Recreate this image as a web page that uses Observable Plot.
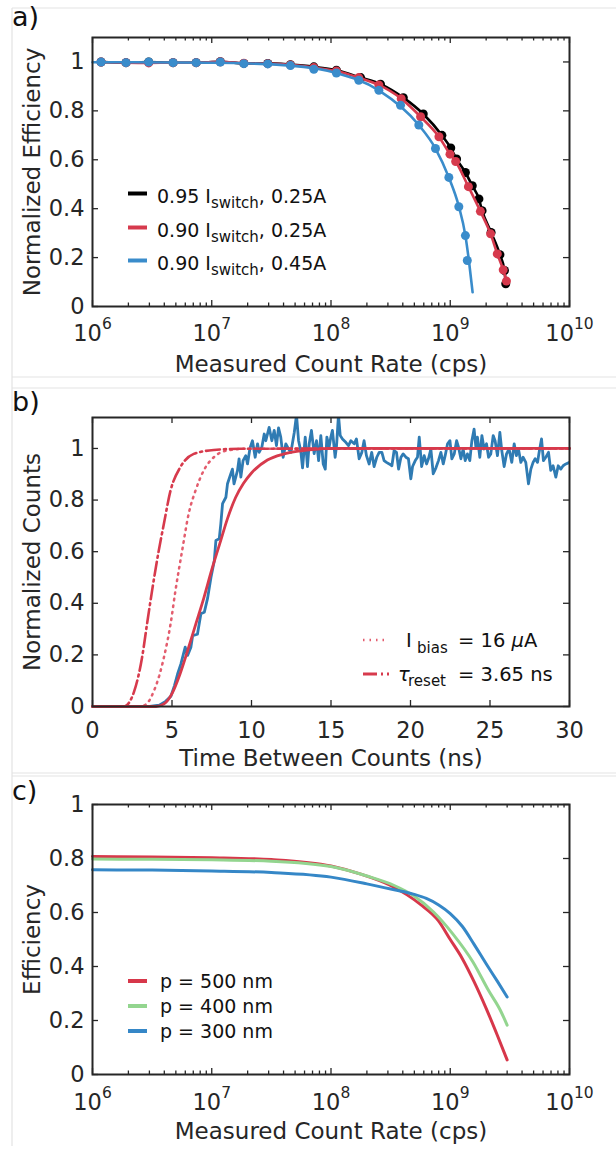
<!DOCTYPE html>
<html><head><meta charset="utf-8">
<script src="https://cdn.jsdelivr.net/npm/d3@7"></script>
<script src="https://cdn.jsdelivr.net/npm/@observablehq/plot@0.6"></script>
<style>
html,body{margin:0;padding:0;background:#fff;}
#root{position:relative;width:616px;height:1149px;overflow:hidden;background:#fff;font-family:"DejaVu Sans";}
.panel{position:absolute;left:0;}
.panel svg{display:block;}
#overlay{position:absolute;left:0;top:0;pointer-events:none;}
</style></head><body><div id="root"></div>
<script>
// ---------------- DATA ----------------
// Panel a: measured count rate (cps) vs normalized efficiency
const rateBlackA = [1.18e6,1.91e6,2.96e6,4.74e6,7.40e6,1.18e7,1.86e7,2.95e7,4.57e7,7.18e7,1.11e8,1.77e8,2.60e8,4.04e8,5.94e8,8.51e8,1.01e9,1.13e9,1.34e9,1.53e9,1.74e9,1.85e9,2.20e9,2.61e9,2.85e9,2.92e9];
const effBlackA  = [1.000,0.997,1.000,0.997,0.997,1.001,0.994,0.994,0.989,0.980,0.966,0.936,0.909,0.854,0.787,0.700,0.648,0.603,0.548,0.494,0.440,0.392,0.303,0.212,0.147,0.093];
const rateRedA = [1.18e6,1.91e6,2.96e6,4.74e6,7.40e6,1.18e7,1.86e7,2.95e7,4.57e7,7.18e7,1.11e8,1.71e8,2.52e8,3.88e8,5.64e8,8.04e8,9.95e8,1.11e9,1.42e9,1.79e9,2.18e9,2.48e9,2.78e9,2.96e9];
const effRedA  = [1.000,0.997,0.996,0.997,0.997,1.001,0.995,0.993,0.988,0.977,0.963,0.936,0.906,0.850,0.776,0.694,0.623,0.593,0.490,0.389,0.297,0.215,0.150,0.104];
const rateBlueA = [1.18e6,1.91e6,2.96e6,4.74e6,7.40e6,1.18e7,1.86e7,2.95e7,4.57e7,7.18e7,1.11e8,1.71e8,2.52e8,3.83e8,5.45e8,7.52e8,9.73e8,1.18e9,1.34e9,1.39e9];
const effBlueA  = [1.000,0.997,1.000,0.997,0.997,1.000,0.993,0.992,0.985,0.970,0.955,0.925,0.884,0.823,0.742,0.646,0.528,0.408,0.290,0.188];
const rateBlueFitA = [1.0e6,1.18e6,1.0e7,4.57e7,1.11e8,2.52e8,5.45e8,7.52e8,9.73e8,1.18e9,1.34e9,1.44e9,1.54e9];
const effBlueFitA  = [0.999,0.999,0.997,0.985,0.955,0.884,0.742,0.646,0.528,0.410,0.290,0.180,0.058];
const seriesA = ["0.95", "0.90", "0.90"];
const currentA = ["0.25A", "0.25A", "0.45A"];

// Panel b: time between counts (ns) vs normalized counts
const tMeasB = [0,1,2,3,3.6,4.2,4.6,4.93,5.15,5.35,5.56,5.83,5.98,6.19,6.3,6.6,6.82,7.03,7.24,7.45,7.66,7.76,7.97,8.07,8.18,8.39,8.49,8.7,8.8,8.9,9.12,9.22,9.33,9.47,9.64,9.75,9.9,10.06,10.23,10.38,10.48,10.65,10.8,10.9,11.11,11.28,11.43,11.57,11.7,11.84,11.99,12.16,12.33,12.48,12.69,12.83,12.96,13.1,13.21,13.38,13.52,13.63,13.77,13.94,14.09,14.22,14.36,14.51,14.64,14.74,14.88,14.99,15.09,15.26,15.35,15.47,15.58,15.72,15.93,16.1,16.25,16.46,16.6,16.77,16.94,17.08,17.23,17.4,17.56,17.71,17.88,18.03,18.2,18.34,18.49,18.66,18.83,18.97,19.12,19.25,19.4,19.54,19.71,19.87,20.02,20.13,20.3,20.44,20.55,20.7,20.86,21.01,21.13,21.28,21.43,21.6,21.76,21.91,22.06,22.18,22.33,22.48,22.6,22.75,22.9,23.02,23.17,23.31,23.44,23.58,23.73,23.86,24.0,24.11,24.21,24.36,24.49,24.63,24.78,24.91,25.05,25.2,25.32,25.47,25.62,25.74,25.89,26.04,26.2,26.37,26.52,26.66,26.79,26.94,27.08,27.25,27.42,27.57,27.71,27.84,27.99,28.09,28.24,28.36,28.51,28.68,28.82,28.97,29.14,29.29,29.45,29.6,29.77,30.0];
const nMeasB = [0,0,0,0,0,0.005,0.02,0.04,0.08,0.126,0.165,0.23,0.198,0.23,0.275,0.28,0.36,0.365,0.42,0.50,0.565,0.643,0.65,0.708,0.786,0.811,0.863,0.902,0.92,0.863,0.915,0.96,0.889,0.953,0.972,0.94,1.0,1.03,0.966,1.018,0.985,1.005,1.056,1.03,1.082,1.03,1.07,1.011,1.08,1.044,0.966,1.018,0.998,0.985,1.062,1.13,1.03,0.99,0.925,1.044,0.93,1.018,1.07,0.98,1.03,0.953,1.05,0.94,0.92,1.044,1.005,1.044,1.07,0.966,1.011,1.13,1.05,1.037,1.024,1.011,1.03,1.018,1.037,0.96,0.985,1.03,0.972,0.94,0.985,0.93,0.966,0.985,0.985,0.953,0.946,0.94,0.933,0.992,0.985,0.92,0.966,0.979,0.966,0.96,0.882,0.93,0.953,0.966,1.044,0.93,0.972,0.94,0.96,0.998,0.902,0.925,0.953,0.985,0.94,0.972,1.018,1.03,0.96,0.979,1.03,1.005,0.96,0.998,0.953,0.979,0.953,1.03,1.075,1.005,1.044,0.966,1.05,0.998,1.018,0.966,0.979,1.05,1.03,0.972,1.062,0.992,0.93,0.979,0.998,0.946,1.018,0.972,0.998,0.946,0.966,0.946,0.863,0.92,0.946,0.96,0.946,0.985,1.037,0.953,0.966,0.985,0.915,0.933,0.889,0.933,0.92,0.933,0.94,0.946];
const tModelB = [0,4.0,4.5,5.0,5.5,6.0,6.5,7.0,7.5,8.0,8.5,9.0,9.5,10,11,12,13,14,15,30];
const nModelB = [0,0,0.01,0.05,0.125,0.22,0.32,0.42,0.53,0.63,0.73,0.81,0.865,0.905,0.955,0.978,0.99,0.997,1.0,1.0];
const tBiasB = [0,3.0,3.4,3.86,4.2,4.49,4.91,5.22,5.64,6.06,6.48,7.0,7.63,8.47,9.72,30];
const nBiasB = [0,0,0.01,0.06,0.12,0.19,0.32,0.45,0.605,0.75,0.837,0.915,0.966,0.992,0.999,1.0];
const tResetB = [0,2.0,2.3,2.6,3.12,3.43,3.75,4.17,4.49,4.91,5.53,6.37,7.63,9.3,30];
const nResetB = [0,0,0.015,0.055,0.191,0.32,0.45,0.605,0.708,0.837,0.928,0.979,0.994,0.999,1.0];

// Panel c: measured count rate (cps) vs efficiency for three pitches
const pitchC = ["p = 500 nm", "p = 400 nm", "p = 300 nm"];
const rate500C = [1e6,3.16e6,1e7,3.16e7,1e8,1.78e8,3.16e8,5.62e8,7.94e8,1e9,1.26e9,1.58e9,2e9,2.51e9,3e9];
const eff500C  = [0.807,0.806,0.803,0.796,0.772,0.742,0.700,0.630,0.570,0.500,0.430,0.345,0.245,0.140,0.054];
const rate400C = [1e6,3.16e6,1e7,3.16e7,1e8,2e8,3.39e8,4.9e8,7.24e8,1.05e9,1.55e9,2.09e9,2.63e9,3e9];
const eff400C  = [0.798,0.797,0.795,0.790,0.770,0.735,0.700,0.663,0.602,0.521,0.417,0.312,0.238,0.183];
const rate300C = [1e6,3.16e6,1e7,3.16e7,1e8,2e8,3.39e8,4.9e8,6.3e8,8e8,1e9,1.26e9,1.58e9,2e9,2.51e9,3e9];
const eff300C  = [0.758,0.757,0.754,0.748,0.731,0.706,0.684,0.668,0.652,0.628,0.596,0.549,0.483,0.410,0.342,0.287];

// Ticks
const logMajor = [1e6,1e7,1e8,1e9,1e10];
const logMinor = [2e6,3e6,4e6,5e6,6e6,7e6,8e6,9e6,2e7,3e7,4e7,5e7,6e7,7e7,8e7,9e7,2e8,3e8,4e8,5e8,6e8,7e8,8e8,9e8,2e9,3e9,4e9,5e9,6e9,7e9,8e9,9e9];
const effTicks = [0,0.2,0.4,0.6,0.8,1];
const timeTicks = [0,5,10,15,20,25,30];

// ---------------- STYLE ----------------
const ink = "#262626";
const font = "DejaVu Sans";
const W = 616, ML = 92, MR = 47;
const FW = W - ML - MR;
const TICKFS = 22.5;

const zip = (xs, ys) => xs.map((x, i) => ({x, y: ys[i]}));

function boxTicks(xMaj, xMin, yMaj, fh) {
  const s = {stroke: ink, strokeWidth: 1.3};
  const maj = 6, min = 3.5;
  const m = [
    Plot.tickX(xMaj, {x: d => d, insetTop: fh - maj, ...s}),
    Plot.tickX(xMaj, {x: d => d, insetBottom: fh - maj, ...s}),
    Plot.tickY(yMaj, {y: d => d, insetRight: FW - maj, ...s}),
    Plot.tickY(yMaj, {y: d => d, insetLeft: FW - maj, ...s})
  ];
  if (xMin) {
    m.push(Plot.tickX(xMin, {x: d => d, insetTop: fh - min, ...s}));
    m.push(Plot.tickX(xMin, {x: d => d, insetBottom: fh - min, ...s}));
  }
  return m;
}

function titles(xTitle, yTitle, xdy) {
  return [
    Plot.text([xTitle], {frameAnchor: "bottom", dy: xdy, lineAnchor: "middle", textAnchor: "middle", fontSize: 23, fill: ink}),
    Plot.text([yTitle], {frameAnchor: "left", dx: -60, rotate: -90, lineAnchor: "middle", textAnchor: "middle", fontSize: 23, fill: ink})
  ];
}

function supLabels(svg) {
  d3.select(svg).selectAll('g[aria-label="x-axis tick label"] text').each(function () {
    const m = this.textContent.match(/^10\^(\d+)$/);
    if (!m) return;
    const t = d3.select(this);
    t.text("");
    t.append("tspan").text("10");
    t.append("tspan").attr("dy", "-12").attr("font-size", "15.5px").text(m[1]);
  });
}

const root = document.getElementById("root");
function place(svg, top) {
  const d = document.createElement("div");
  d.className = "panel";
  d.style.top = top + "px";
  d.appendChild(svg);
  root.appendChild(d);
}
const baseStyle = {fontFamily: font, fontSize: TICKFS + "px", color: ink, background: "transparent", overflow: "visible"};

// ---------------- PANEL A ----------------
const cBlack = "#000000", cRedA = "#d63a4d", cBlueA = "#3a8ccb";
{
  const H = 377, MT = 37, MB = 71, FH = H - MT - MB;
  const black = zip(rateBlackA, effBlackA), red = zip(rateRedA, effRedA), blue = zip(rateBlueA, effBlueA), blueFit = zip(rateBlueFitA, effBlueFitA);
  const svg = Plot.plot({
    width: W, height: H, marginTop: MT, marginBottom: MB, marginLeft: ML, marginRight: MR,
    style: baseStyle,
    x: {type: "log", domain: [1e6, 1e10]},
    y: {domain: [0, 1.1]},
    marks: [
      ...boxTicks(logMajor, logMinor, effTicks, FH),
      Plot.line(black, {x: "x", y: "y", stroke: cBlack, strokeWidth: 2.6, curve: "monotone-x"}),
      Plot.dot(black, {x: "x", y: "y", r: 4.5, fill: cBlack}),
      Plot.line(red, {x: "x", y: "y", stroke: cRedA, strokeWidth: 2.6, curve: "monotone-x"}),
      Plot.dot(red, {x: "x", y: "y", r: 4.5, fill: cRedA}),
      Plot.line(blueFit, {x: "x", y: "y", stroke: cBlueA, strokeWidth: 2.6, curve: "monotone-x"}),
      Plot.dot(blue, {x: "x", y: "y", r: 4.5, fill: cBlueA}),
      Plot.axisX({ticks: logMajor, tickSize: 0, tickPadding: 19, label: null, fontSize: TICKFS, tickFormat: d => "10^" + Math.round(Math.log10(d))}),
      Plot.axisY({ticks: effTicks, tickSize: 0, tickPadding: 8, label: null, fontSize: TICKFS, tickFormat: d => String(d)}),
      ...titles("Measured Count Rate (cps)", "Normalized Efficiency", 58),
      Plot.frame({stroke: ink, strokeWidth: 2})
    ]
  });
  supLabels(svg);
  place(svg, 0);
}

// ---------------- PANEL B ----------------
const cBlueB = "#2f7bb3", cRedB = "#d73a4c", cPinkB = "#e35d6e";
{
  const H = 396, MT = 40, MB = 67, FH = H - MT - MB;
  const svg = Plot.plot({
    width: W, height: H, marginTop: MT, marginBottom: MB, marginLeft: ML, marginRight: MR,
    style: baseStyle,
    x: {domain: [0, 30]},
    y: {domain: [0, 1.12]},
    marks: [
      ...boxTicks(timeTicks, null, effTicks, FH),
      Plot.line(zip(tMeasB, nMeasB), {x: "x", y: "y", stroke: cBlueB, strokeWidth: 2.8, clip: true}),
      Plot.line(zip(tBiasB, nBiasB), {x: "x", y: "y", stroke: cPinkB, strokeWidth: 2.5, strokeDasharray: "1.5,5", curve: "monotone-x"}),
      Plot.line(zip(tResetB, nResetB), {x: "x", y: "y", stroke: cRedB, strokeWidth: 2.6, strokeDasharray: "14,4,2,4", curve: "monotone-x"}),
      Plot.line(zip(tModelB, nModelB), {x: "x", y: "y", stroke: cRedB, strokeWidth: 2.8, curve: "monotone-x"}),
      Plot.axisX({ticks: timeTicks, tickSize: 0, tickPadding: 16, label: null, fontSize: TICKFS, tickFormat: d => String(d)}),
      Plot.axisY({ticks: effTicks, tickSize: 0, tickPadding: 8, label: null, fontSize: TICKFS, tickFormat: d => String(d)}),
      ...titles("Time Between Counts (ns)", "Normalized Counts", 52),
      Plot.frame({stroke: ink, strokeWidth: 2})
    ]
  });
  place(svg, 377);
}

// ---------------- PANEL C ----------------
const cRedC = "#d7374a", cGreenC = "#93d58f", cBlueC = "#3587c7";
{
  const H = 376, MT = 31, MB = 75, FH = H - MT - MB;
  const svg = Plot.plot({
    width: W, height: H, marginTop: MT, marginBottom: MB, marginLeft: ML, marginRight: MR,
    style: baseStyle,
    x: {type: "log", domain: [1e6, 1e10]},
    y: {domain: [0, 1]},
    marks: [
      ...boxTicks(logMajor, logMinor, effTicks, FH),
      Plot.line(zip(rate500C, eff500C), {x: "x", y: "y", stroke: cRedC, strokeWidth: 3, curve: "monotone-x"}),
      Plot.line(zip(rate400C, eff400C), {x: "x", y: "y", stroke: cGreenC, strokeWidth: 3, curve: "monotone-x"}),
      Plot.line(zip(rate300C, eff300C), {x: "x", y: "y", stroke: cBlueC, strokeWidth: 3, curve: "monotone-x"}),
      Plot.axisX({ticks: logMajor, tickSize: 0, tickPadding: 20, label: null, fontSize: TICKFS, tickFormat: d => "10^" + Math.round(Math.log10(d))}),
      Plot.axisY({ticks: effTicks, tickSize: 0, tickPadding: 8, label: null, fontSize: TICKFS, tickFormat: d => String(d)}),
      ...titles("Measured Count Rate (cps)", "Efficiency", 57),
      Plot.frame({stroke: ink, strokeWidth: 2})
    ]
  });
  supLabels(svg);
  place(svg, 773);
}

// ---------------- OVERLAY: separators, panel letters, legends ----------------
const ov = d3.select(root).append("svg").attr("id", "overlay").attr("width", 616).attr("height", 1149)
  .attr("font-family", font);
const sep = "#e3e3e3";
[[8],[377],[388],[773],[776]].forEach(([y]) => ov.append("line").attr("x1", 12).attr("x2", 616).attr("y1", y).attr("y2", y).attr("stroke", sep).attr("stroke-width", 1.2));
ov.append("line").attr("x1", 12).attr("x2", 12).attr("y1", 8).attr("y2", 1146).attr("stroke", sep).attr("stroke-width", 1.2);

[["a)", 26], ["b)", 411], ["c)", 800]].forEach(([t, y]) =>
  ov.append("text").attr("x", 12).attr("y", y).attr("font-size", 27).attr("fill", "#111").text(t));

// legend a
const legA = [cBlack, cRedA, cBlueA];
[203, 237, 270].forEach((b, i) => {
  ov.append("line").attr("x1", 128).attr("x2", 147).attr("y1", b - 9.5).attr("y2", b - 9.5).attr("stroke", legA[i]).attr("stroke-width", 4);
  const t = ov.append("text").attr("x", 157).attr("y", b).attr("font-size", 19).attr("fill", "#111");
  t.append("tspan").text(seriesA[i] + " I");
  t.append("tspan").attr("font-size", 15).attr("dy", 5).text("switch");
  t.append("tspan").attr("dy", -5).text(", " + currentA[i]);
});

// legend b
{
  ov.append("line").attr("x1", 363).attr("x2", 389).attr("y1", 640).attr("y2", 640).attr("stroke", cPinkB).attr("stroke-width", 2.5).attr("stroke-dasharray", "1.5,5");
  ov.append("line").attr("x1", 363).attr("x2", 389).attr("y1", 674).attr("y2", 674).attr("stroke", cRedB).attr("stroke-width", 2.8).attr("stroke-dasharray", "14,4,2,4");
  const g = ov.append("g").attr("font-size", 19.5).attr("fill", "#111");
  g.append("text").attr("x", 406).attr("y", 647).text("I");
  g.append("text").attr("x", 417).attr("y", 653).attr("font-size", 15).text("bias");
  const t1 = g.append("text").attr("x", 458).attr("y", 647);
  t1.append("tspan").text("= 16 ");
  t1.append("tspan").attr("font-style", "italic").text("μ");
  t1.append("tspan").text("A");
  g.append("text").attr("x", 398).attr("y", 681).attr("font-style", "italic").text("τ");
  g.append("text").attr("x", 408).attr("y", 686).attr("font-size", 15).text("reset");
  g.append("text").attr("x", 458).attr("y", 681).text("= 3.65 ns");
}

// legend c
const legC = [cRedC, cGreenC, cBlueC];
[988, 1013, 1038].forEach((b, i) => {
  ov.append("line").attr("x1", 128).attr("x2", 147).attr("y1", b - 7).attr("y2", b - 7).attr("stroke", legC[i]).attr("stroke-width", 4);
  ov.append("text").attr("x", 160).attr("y", b).attr("font-size", 19).attr("fill", "#111").text(pitchC[i]);
});
</script></body></html>
